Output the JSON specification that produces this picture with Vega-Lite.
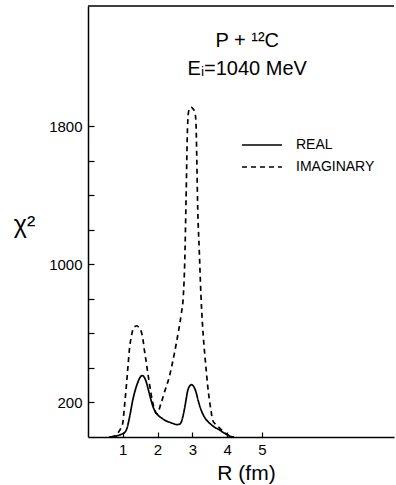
{
  "$schema": "https://vega.github.io/schema/vega-lite/v6.json",
  "width": 306,
  "height": 431,
  "autosize": {"type": "none"},
  "padding": {"left": 88, "top": 6, "right": 2, "bottom": 48},
  "background": "white",
  "config": {
    "view": {"stroke": null},
    "font": "Liberation Sans",
    "axis": {"grid": false, "domainColor": "black", "tickColor": "black", "labelColor": "black", "titleColor": "black", "labelFont": "Liberation Sans", "titleFont": "Liberation Sans", "titleFontWeight": "normal", "domainWidth": 1.5, "tickWidth": 1.2}
  },
  "layer": [
    {
      "data": {
        "values": [
          {"series": "REAL", "R": 0.6, "chi2": 0},
          {"series": "REAL", "R": 0.75, "chi2": 3},
          {"series": "REAL", "R": 0.85, "chi2": 8},
          {"series": "REAL", "R": 0.95, "chi2": 15},
          {"series": "REAL", "R": 1.05, "chi2": 25},
          {"series": "REAL", "R": 1.12, "chi2": 50},
          {"series": "REAL", "R": 1.2, "chi2": 120},
          {"series": "REAL", "R": 1.29, "chi2": 216},
          {"series": "REAL", "R": 1.36, "chi2": 272},
          {"series": "REAL", "R": 1.43, "chi2": 315},
          {"series": "REAL", "R": 1.5, "chi2": 346},
          {"series": "REAL", "R": 1.56, "chi2": 356},
          {"series": "REAL", "R": 1.62, "chi2": 345},
          {"series": "REAL", "R": 1.67, "chi2": 322},
          {"series": "REAL", "R": 1.74, "chi2": 270},
          {"series": "REAL", "R": 1.81, "chi2": 216},
          {"series": "REAL", "R": 1.88, "chi2": 170},
          {"series": "REAL", "R": 1.96, "chi2": 139},
          {"series": "REAL", "R": 2.05, "chi2": 120},
          {"series": "REAL", "R": 2.15, "chi2": 105},
          {"series": "REAL", "R": 2.24, "chi2": 94},
          {"series": "REAL", "R": 2.35, "chi2": 85},
          {"series": "REAL", "R": 2.45, "chi2": 78},
          {"series": "REAL", "R": 2.55, "chi2": 72},
          {"series": "REAL", "R": 2.63, "chi2": 74},
          {"series": "REAL", "R": 2.68, "chi2": 85},
          {"series": "REAL", "R": 2.73, "chi2": 120},
          {"series": "REAL", "R": 2.77, "chi2": 158},
          {"series": "REAL", "R": 2.82, "chi2": 215},
          {"series": "REAL", "R": 2.86, "chi2": 262},
          {"series": "REAL", "R": 2.92, "chi2": 294},
          {"series": "REAL", "R": 2.98, "chi2": 303},
          {"series": "REAL", "R": 3.04, "chi2": 292},
          {"series": "REAL", "R": 3.1, "chi2": 264},
          {"series": "REAL", "R": 3.17, "chi2": 210},
          {"series": "REAL", "R": 3.25, "chi2": 158},
          {"series": "REAL", "R": 3.35, "chi2": 115},
          {"series": "REAL", "R": 3.49, "chi2": 81},
          {"series": "REAL", "R": 3.63, "chi2": 58},
          {"series": "REAL", "R": 3.77, "chi2": 42},
          {"series": "REAL", "R": 3.9, "chi2": 25},
          {"series": "REAL", "R": 4.01, "chi2": 12},
          {"series": "REAL", "R": 4.1, "chi2": 3},
          {"series": "REAL", "R": 4.2, "chi2": 0},
          {"series": "IMAGINARY", "R": 0.65, "chi2": 0},
          {"series": "IMAGINARY", "R": 0.78, "chi2": 8},
          {"series": "IMAGINARY", "R": 0.86, "chi2": 23},
          {"series": "IMAGINARY", "R": 0.93, "chi2": 45},
          {"series": "IMAGINARY", "R": 1.0, "chi2": 81},
          {"series": "IMAGINARY", "R": 1.05, "chi2": 180},
          {"series": "IMAGINARY", "R": 1.11, "chi2": 312},
          {"series": "IMAGINARY", "R": 1.15, "chi2": 410},
          {"series": "IMAGINARY", "R": 1.19, "chi2": 505},
          {"series": "IMAGINARY", "R": 1.24, "chi2": 575},
          {"series": "IMAGINARY", "R": 1.29, "chi2": 620},
          {"series": "IMAGINARY", "R": 1.35, "chi2": 640},
          {"series": "IMAGINARY", "R": 1.41, "chi2": 644},
          {"series": "IMAGINARY", "R": 1.47, "chi2": 632},
          {"series": "IMAGINARY", "R": 1.53, "chi2": 611},
          {"series": "IMAGINARY", "R": 1.58, "chi2": 565},
          {"series": "IMAGINARY", "R": 1.62, "chi2": 505},
          {"series": "IMAGINARY", "R": 1.67, "chi2": 440},
          {"series": "IMAGINARY", "R": 1.72, "chi2": 370},
          {"series": "IMAGINARY", "R": 1.77, "chi2": 305},
          {"series": "IMAGINARY", "R": 1.81, "chi2": 254},
          {"series": "IMAGINARY", "R": 1.86, "chi2": 200},
          {"series": "IMAGINARY", "R": 1.91, "chi2": 160},
          {"series": "IMAGINARY", "R": 1.98, "chi2": 135},
          {"series": "IMAGINARY", "R": 2.1, "chi2": 195},
          {"series": "IMAGINARY", "R": 2.2, "chi2": 260},
          {"series": "IMAGINARY", "R": 2.34, "chi2": 350},
          {"series": "IMAGINARY", "R": 2.48, "chi2": 480},
          {"series": "IMAGINARY", "R": 2.6, "chi2": 610},
          {"series": "IMAGINARY", "R": 2.68, "chi2": 710},
          {"series": "IMAGINARY", "R": 2.74, "chi2": 813},
          {"series": "IMAGINARY", "R": 2.78, "chi2": 1000},
          {"series": "IMAGINARY", "R": 2.82, "chi2": 1373},
          {"series": "IMAGINARY", "R": 2.86, "chi2": 1780},
          {"series": "IMAGINARY", "R": 2.89, "chi2": 1880},
          {"series": "IMAGINARY", "R": 2.93, "chi2": 1905},
          {"series": "IMAGINARY", "R": 2.97, "chi2": 1908},
          {"series": "IMAGINARY", "R": 3.02, "chi2": 1900},
          {"series": "IMAGINARY", "R": 3.07, "chi2": 1880},
          {"series": "IMAGINARY", "R": 3.1, "chi2": 1840},
          {"series": "IMAGINARY", "R": 3.13, "chi2": 1600},
          {"series": "IMAGINARY", "R": 3.15, "chi2": 1373},
          {"series": "IMAGINARY", "R": 3.2, "chi2": 1080},
          {"series": "IMAGINARY", "R": 3.25, "chi2": 813},
          {"series": "IMAGINARY", "R": 3.29, "chi2": 660},
          {"series": "IMAGINARY", "R": 3.34, "chi2": 520},
          {"series": "IMAGINARY", "R": 3.39, "chi2": 408},
          {"series": "IMAGINARY", "R": 3.44, "chi2": 300},
          {"series": "IMAGINARY", "R": 3.49, "chi2": 216},
          {"series": "IMAGINARY", "R": 3.54, "chi2": 150},
          {"series": "IMAGINARY", "R": 3.58, "chi2": 100},
          {"series": "IMAGINARY", "R": 3.66, "chi2": 75},
          {"series": "IMAGINARY", "R": 3.77, "chi2": 55},
          {"series": "IMAGINARY", "R": 3.9, "chi2": 30},
          {"series": "IMAGINARY", "R": 4.01, "chi2": 13},
          {"series": "IMAGINARY", "R": 4.1, "chi2": 3},
          {"series": "IMAGINARY", "R": 4.2, "chi2": 0}
        ]
      },
      "mark": {"type": "line", "color": "black", "strokeWidth": 1.7, "interpolate": "monotone"},
      "encoding": {
        "x": {
          "field": "R", "type": "quantitative",
          "scale": {"domain": [0, 8.8], "nice": false, "zero": false},
          "axis": {
            "values": [1, 2, 3, 4, 5], "tickSize": -5, "labelPadding": 10, "labelFontSize": 15,
            "title": "R (fm)", "titleFontSize": 21, "titleX": 158, "titleY": 42, "titleBaseline": "alphabetic", "titleAnchor": null, "titleAlign": "center"
          }
        },
        "y": {
          "field": "chi2", "type": "quantitative",
          "scale": {"domain": [0, 2495], "nice": false},
          "axis": {
            "values": [200, 400, 600, 800, 1000, 1200, 1400, 1600, 1800],
            "labelExpr": "(datum.value == 200 || datum.value == 1000 || datum.value == 1800) ? datum.label : ''",
            "format": "d", "tickSize": -6, "labelPadding": 12, "labelFontSize": 15,
            "title": "χ²", "titleAngle": 0, "titleFontSize": 25, "titleX": -64, "titleY": 218, "titleAlign": "center", "titleBaseline": "middle"
          }
        },
        "detail": {"field": "series"},
        "strokeDash": {
          "field": "series", "type": "nominal",
          "scale": {"domain": ["REAL", "IMAGINARY"], "range": [[1, 0], [5, 4]]},
          "legend": {
            "title": null, "orient": "none", "legendX": 167, "legendY": 132, "padding": 0,
            "symbolType": "M-4,0H4", "symbolSize": 100, "symbolStrokeColor": "black", "symbolStrokeWidth": 1.5,
            "labelFontSize": 14, "labelOffset": 27, "rowPadding": 8, "labelColor": "black", "labelFont": "Liberation Sans"
          }
        }
      }
    },
    {
      "data": {"values": [{}]},
      "mark": {"type": "rule", "color": "black", "strokeWidth": 1.5},
      "encoding": {"y": {"datum": 2495}}
    },
    {
      "data": {"values": [{}]},
      "mark": {"type": "text", "fontSize": 20, "align": "center", "baseline": "alphabetic", "fill": "black", "fontWeight": "normal"},
      "encoding": {"x": {"datum": 4.58}, "y": {"datum": 2255}, "text": {"value": "P + ¹²C"}}
    },
    {
      "data": {"values": [{}]},
      "mark": {"type": "text", "fontSize": 20, "align": "center", "baseline": "alphabetic", "fill": "black", "fontWeight": "normal"},
      "encoding": {"x": {"datum": 4.58}, "y": {"datum": 2098}, "text": {"value": "Eᵢ=1040 MeV"}}
    }
  ]
}
